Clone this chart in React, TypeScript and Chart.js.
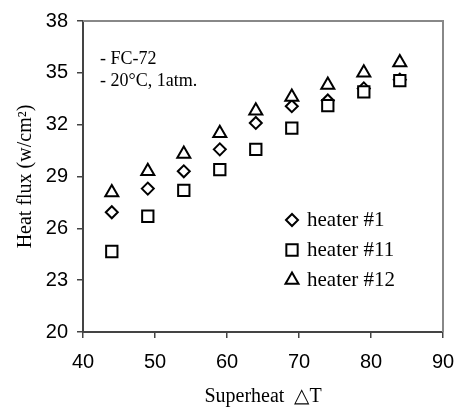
import React, { useEffect, useRef } from "react";
import { Chart, registerables } from "chart.js";
import { drawPoint } from "chart.js/helpers";

Chart.register(...registerables);

const superheat = [44, 49, 54, 59, 64, 69, 74, 79, 84];
const heater1 = [26.93, 28.3, 29.3, 30.57, 32.1, 33.07, 33.4, 34.1, 34.6];
const heater11 = [24.66, 26.7, 28.2, 29.4, 30.57, 31.8, 33.1, 33.9, 34.55];
const heater12 = [28.07, 29.3, 30.3, 31.5, 32.8, 33.6, 34.3, 35.0, 35.6];
const seriesLabels = ["heater #1", "heater #11", "heater #12"];
const notes = ["- FC-72", "- 20°C, 1atm."];
const yTitle = "Heat flux (w/cm²)";
const xTitle = "Superheat  △T";

const SERIF = "'Liberation Serif', 'Times New Roman', serif";
const SANS = "'Liberation Sans', Arial, sans-serif";

const framePlugin = {
  id: "frame",
  beforeDatasetsDraw(chart: any) {
    const { ctx, chartArea } = chart;
    ctx.save();
    ctx.strokeStyle = "#888";
    ctx.lineWidth = 2;
    ctx.beginPath();
    ctx.moveTo(chartArea.left, chartArea.top);
    ctx.lineTo(chartArea.right, chartArea.top);
    ctx.lineTo(chartArea.right, chartArea.bottom);
    ctx.stroke();
    ctx.restore();
  },
};

const legendPlugin = {
  id: "innerLegend",
  afterDatasetsDraw(chart: any) {
    const { ctx, chartArea } = chart;
    ctx.save();
    ctx.fillStyle = "#000";
    ctx.font = `18px ${SERIF}`;
    ctx.textBaseline = "middle";
    ctx.textAlign = "left";
    notes.forEach((t, i) => {
      ctx.fillText(t, chartArea.left + 17, chartArea.top + 38 + i * 22);
    });
    const ds = chart.data.datasets;
    ds.forEach((d: any, i: number) => {
      const cx = chartArea.left + 209;
      const cy = chartArea.top + 199 + i * 30;
      ctx.strokeStyle = "#000";
      ctx.fillStyle = "#fff";
      ctx.lineWidth = 2;
      drawPoint(ctx, { pointStyle: d.pointStyle, radius: d.pointRadius, rotation: 0, borderWidth: 2 }, cx, cy);
      ctx.fillStyle = "#000";
      ctx.font = `21px ${SERIF}`;
      ctx.fillText(d.label, cx + 15, cy);
    });
    ctx.restore();
  },
};

export default function App() {
  const ref = useRef<HTMLCanvasElement>(null);
  useEffect(() => {
    document.body.style.margin = "0";
    const mk = (xs: number[], ys: number[]) => xs.map((x, i) => ({ x, y: ys[i] }));
    const common = {
      borderColor: "#000",
      backgroundColor: "#fff",
      borderWidth: 2,
      showLine: false,
    };
    const chart = new Chart(ref.current!, {
      type: "scatter",
      data: {
        datasets: [
          { ...common, label: seriesLabels[0], data: mk(superheat, heater1), pointStyle: "rectRot", pointRadius: 6, order: 2 },
          { ...common, label: seriesLabels[1], data: mk(superheat, heater11), pointStyle: "rect", pointRadius: 8, order: 1 },
          { ...common, label: seriesLabels[2], data: mk(superheat, heater12), pointStyle: "triangle", pointRadius: 7.5, order: 0 },
        ],
      },
      options: {
        animation: false,
        responsive: false,
        layout: { padding: { top: 16, right: 20, left: 0, bottom: 0 } },
        plugins: { legend: { display: false }, tooltip: { enabled: false } },
        scales: {
          x: {
            type: "linear",
            min: 40,
            max: 90,
            afterFit: (s: any) => { s.height = 78; s.paddingRight = 0; s.paddingLeft = 0; },
            ticks: { stepSize: 10, color: "#000", font: { family: SANS, size: 20 }, padding: 12 },
            grid: { drawOnChartArea: false, drawTicks: true, tickLength: 6, color: "#444", lineWidth: 1.5 },
            border: { display: true, color: "#444", width: 2 },
            title: { display: true, text: xTitle, color: "#000", font: { family: SERIF, size: 20 }, padding: { top: 0, bottom: 1 } },
          },
          y: {
            type: "linear",
            min: 20,
            max: 38,
            afterFit: (s: any) => { s.width = 83; },
            ticks: { stepSize: 3, color: "#000", font: { family: SANS, size: 20 }, padding: 9 },
            grid: { drawOnChartArea: false, drawTicks: true, tickLength: 6, color: "#444", lineWidth: 1.5 },
            border: { display: true, color: "#444", width: 2 },
            title: { display: true, text: yTitle, color: "#000", font: { family: SERIF, size: 20 }, padding: { top: 14, bottom: 0 } },
          },
        },
      },
      plugins: [framePlugin, legendPlugin],
    });
    return () => chart.destroy();
  }, []);
  return (
    <div style={{ width: 463, height: 410, background: "#fff" }}>
      <canvas ref={ref} width={463} height={410} style={{ display: "block" }} />
    </div>
  );
}
